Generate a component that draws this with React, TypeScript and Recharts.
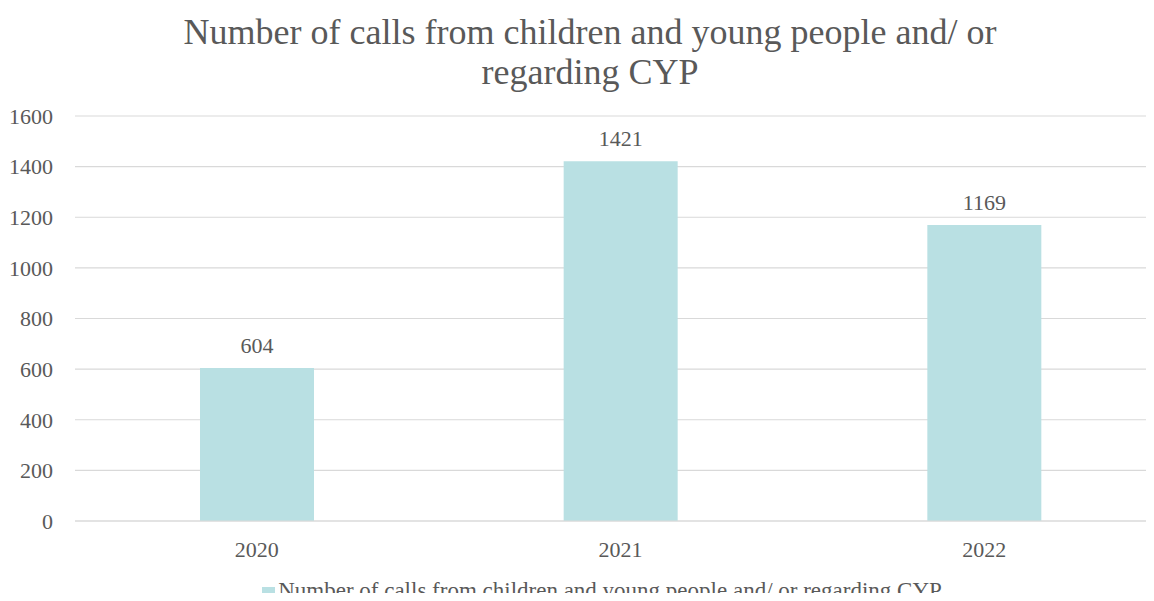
import { BarChart, Bar, XAxis, YAxis, CartesianGrid, LabelList } from 'recharts';

const years = ['2020', '2021', '2022'];
const calls = [604, 1421, 1169];
const yTicks = [0, 200, 400, 600, 800, 1000, 1200, 1400, 1600];
const seriesName = 'Number of calls from children and young people and/ or regarding CYP';
const titleLines = ['Number of calls from children and young people and/ or', 'regarding CYP'];

const data = years.map((year, i) => ({ year, calls: calls[i] }));

const FONT = '"Liberation Serif", "Times New Roman", serif';
const TEXT = '#595959';
const BAR = '#b9e0e3';

export default function App() {
  return (
    <div style={{ margin: -8, width: 1154, height: 601, overflow: 'hidden', position: 'relative', background: '#fff' }}>
      <div style={{ position: 'absolute', top: 0, left: 0, width: 1180, height: 601 }}>
        <div
          style={{
            position: 'absolute',
            top: 12,
            left: 0,
            width: 1180,
            textAlign: 'center',
            fontFamily: FONT,
            fontSize: 36,
            lineHeight: '40px',
            color: TEXT,
          }}
        >
          {titleLines.map((t) => (
            <div key={t}>{t}</div>
          ))}
        </div>
        <BarChart width={1180} height={601} data={data} margin={{ top: 116, right: 14, left: 0, bottom: 0 }} barSize={114}>
          <CartesianGrid vertical={false} stroke="#d9d9d9" strokeWidth={1.2} />
          <XAxis
            dataKey="year"
            height={80}
            axisLine={{ stroke: '#d9d9d9', strokeWidth: 1.2 }}
            tickLine={false}
            tickSize={0}
            tickMargin={20}
            tick={{ fill: TEXT, fontSize: 22, fontFamily: FONT }}
          />
          <YAxis
            width={75}
            domain={[0, 1600]}
            ticks={yTicks}
            axisLine={false}
            tickLine={false}
            tickSize={0}
            tickMargin={22}
            tick={{ fill: TEXT, fontSize: 22, fontFamily: FONT }}
          />
          <Bar dataKey="calls" fill={BAR} isAnimationActive={false}>
            <LabelList dataKey="calls" position="top" offset={15} fill={TEXT} fontSize={22} fontFamily={FONT} />
          </Bar>
        </BarChart>
        <div
          style={{
            position: 'absolute',
            top: 578,
            left: 12,
            width: 1180,
            display: 'flex',
            justifyContent: 'center',
            alignItems: 'center',
            fontFamily: FONT,
            fontSize: 23,
            color: TEXT,
          }}
        >
          <span style={{ display: 'inline-block', width: 13, height: 12, background: BAR, marginRight: 3, marginTop: 4 }} />
          <span>{seriesName}</span>
        </div>
      </div>
    </div>
  );
}
